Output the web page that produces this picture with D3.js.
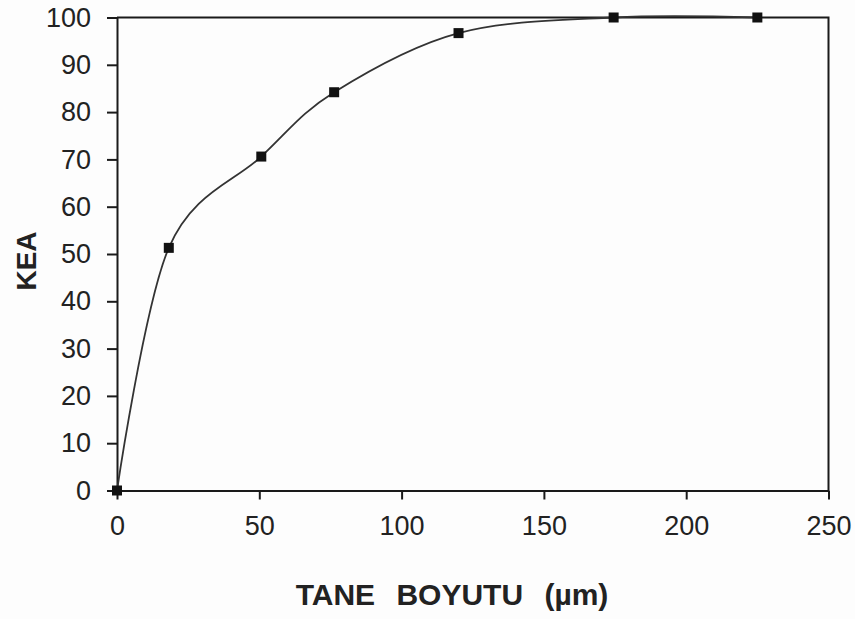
<!DOCTYPE html>
<html>
<head>
<meta charset="utf-8">
<script src="https://cdn.jsdelivr.net/npm/d3@7"></script>
<style>
  html, body { margin: 0; padding: 0; background: #fdfdfd; }
  svg { display: block; }
  text { font-family: "Liberation Sans", Arial, sans-serif; fill: #222; }
</style>
</head>
<body>
<svg id="chart" width="855" height="619"></svg>
<script>
// Grain size (µm) vs KEA
const grainSize = [0, 18.2, 50.7, 76.3, 120, 174.5, 225];
const keaValues = [0, 51.3, 70.6, 84.2, 96.7, 100, 100];
const xTicks = [0, 50, 100, 150, 200, 250];
const yTicks = [0, 10, 20, 30, 40, 50, 60, 70, 80, 90, 100];
const xTitle = "TANE BOYUTU (µm)";
const yTitle = "KEA";

const svg = d3.select("#chart");
const plotLeft = 117, plotRight = 828.5, plotTop = 17.5, plotBottom = 490.5;

const x = d3.scaleLinear().domain([0, 250]).range([plotLeft, plotRight]);
const y = d3.scaleLinear().domain([0, 100]).range([plotBottom, plotTop]);

// Frame on top and right
svg.append("path")
  .attr("d", `M${plotLeft},${plotTop}H${plotRight}V${plotBottom}`)
  .attr("fill", "none").attr("stroke", "#1a1a1a").attr("stroke-width", 2);

// X axis
const xAxis = svg.append("g")
  .attr("transform", `translate(0,${plotBottom})`)
  .call(d3.axisBottom(x).tickValues(xTicks).tickSize(9).tickPadding(16).tickSizeOuter(0));
// Y axis
const yAxis = svg.append("g")
  .attr("transform", `translate(${plotLeft},0)`)
  .call(d3.axisLeft(y).tickValues(yTicks).tickSize(10).tickPadding(16).tickSizeOuter(0));

[xAxis, yAxis].forEach(g => {
  g.select(".domain").attr("stroke", "#1a1a1a").attr("stroke-width", 2);
  g.selectAll(".tick line").attr("stroke", "#1a1a1a").attr("stroke-width", 2);
  g.selectAll(".tick text")
    .attr("font-size", 27)
    .attr("font-family", "'Liberation Sans', Arial, sans-serif")
    .attr("fill", "#2a2a2a");
});
xAxis.selectAll(".tick text").attr("dy", "0.72em");

// Smoothed curve through the measured points
const pts = grainSize.map((g, i) => [g, keaValues[i]]);
const line = d3.line()
  .x(d => x(d[0])).y(d => y(d[1]))
  .curve(d3.curveCardinal.tension(0));

svg.append("path")
  .datum(pts)
  .attr("d", line)
  .attr("fill", "none")
  .attr("stroke", "#333")
  .attr("stroke-width", 1.8);

// Square markers
const ms = 10;
svg.selectAll("rect.marker")
  .data(pts)
  .join("rect")
  .attr("class", "marker")
  .attr("x", d => x(d[0]) - ms / 2)
  .attr("y", d => y(d[1]) - ms / 2)
  .attr("width", ms).attr("height", ms)
  .attr("fill", "#111");

// Axis titles
svg.append("text")
  .attr("x", 452).attr("y", 605)
  .attr("text-anchor", "middle")
  .attr("font-size", 30).attr("font-weight", "bold")
  .attr("word-spacing", "13px")
  .text(xTitle);

svg.append("text")
  .attr("transform", "translate(36,261) rotate(-90)")
  .attr("text-anchor", "middle")
  .attr("font-size", 28).attr("font-weight", "bold")
  .text(yTitle);
</script>
</body>
</html>
